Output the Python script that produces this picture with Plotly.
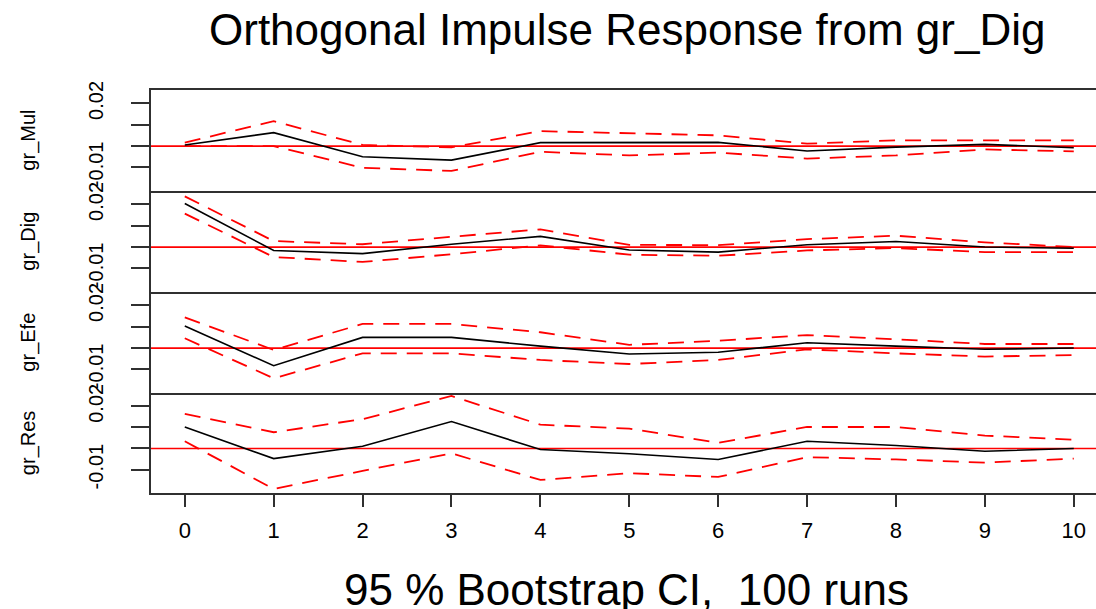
import plotly.graph_objects as go

horizon = [0, 1, 2, 3, 4, 5, 6, 7, 8, 9, 10]
x_tick_labels = ["0", "1", "2", "3", "4", "5", "6", "7", "8", "9", "10"]
panel_names = ["gr_Mul", "gr_Dig", "gr_Efe", "gr_Res"]

mul_irf = [0.0005, 0.0063, -0.0050, -0.0066, 0.0016, 0.0017, 0.0017, -0.0023, -0.0005, 0.0008, -0.0008]
mul_upper = [0.0016, 0.0117, 0.0005, -0.0006, 0.0070, 0.0061, 0.0050, 0.0011, 0.0027, 0.0027, 0.0027]
mul_lower = [0.0000, 0.0000, -0.0102, -0.0117, -0.0027, -0.0044, -0.0031, -0.0059, -0.0044, -0.0016, -0.0025]

dig_irf = [0.0204, -0.0016, -0.0031, 0.0013, 0.0050, -0.0014, -0.0024, 0.0011, 0.0026, 0.0000, -0.0006]
dig_upper = [0.0238, 0.0028, 0.0013, 0.0047, 0.0083, 0.0010, 0.0009, 0.0037, 0.0053, 0.0022, 0.0000]
dig_lower = [0.0157, -0.0047, -0.0070, -0.0034, 0.0008, -0.0036, -0.0041, -0.0016, -0.0005, -0.0024, -0.0024]

efe_irf = [0.0103, -0.0083, 0.0050, 0.0050, 0.0009, -0.0028, -0.0020, 0.0025, 0.0009, -0.0006, 0.0000]
efe_upper = [0.0144, -0.0009, 0.0113, 0.0113, 0.0074, 0.0015, 0.0034, 0.0061, 0.0041, 0.0019, 0.0019]
efe_lower = [0.0046, -0.0142, -0.0025, -0.0025, -0.0056, -0.0075, -0.0056, -0.0006, -0.0025, -0.0040, -0.0033]

res_irf = [0.0102, -0.0048, 0.0011, 0.0128, -0.0005, -0.0025, -0.0052, 0.0034, 0.0014, -0.0013, 0.0000]
res_upper = [0.0164, 0.0077, 0.0139, 0.0249, 0.0113, 0.0094, 0.0027, 0.0102, 0.0102, 0.0061, 0.0042]
res_lower = [0.0034, -0.0192, -0.0106, -0.0023, -0.0149, -0.0117, -0.0135, -0.0041, -0.0052, -0.0067, -0.0048]

y_tick_vals = [-0.01, 0.0, 0.01, 0.02]
y_tick_text = ["-0.01", "", "", "0.02"]

panels = [
    (mul_irf, mul_upper, mul_lower),
    (dig_irf, dig_upper, dig_lower),
    (efe_irf, efe_upper, efe_lower),
    (res_irf, res_upper, res_lower),
]

FONT = "Liberation Sans, Arial, sans-serif"
domains = [[0.7494, 1.0], [0.4988, 0.7494], [0.2481, 0.4988], [0.0, 0.2481]]
y_range = [-0.0211, 0.0263]
x_range = [-0.38, 10.25]
BORDER = "#303030"

fig = go.Figure()
layout = {}
for i, (irf, up, lo) in enumerate(panels):
    n = i + 1
    xa = "x" if n == 1 else f"x{n}"
    ya = "y" if n == 1 else f"y{n}"
    fig.add_trace(go.Scatter(x=[x_range[0], x_range[1]], y=[0, 0], xaxis=xa, yaxis=ya,
                             mode="lines", line=dict(color="#ff0000", width=1.7),
                             showlegend=False, hoverinfo="skip"))
    fig.add_trace(go.Scatter(x=horizon, y=up, xaxis=xa, yaxis=ya, mode="lines",
                             line=dict(color="#ff0000", width=1.8, dash="16px,10px"),
                             showlegend=False))
    fig.add_trace(go.Scatter(x=horizon, y=lo, xaxis=xa, yaxis=ya, mode="lines",
                             line=dict(color="#ff0000", width=1.8, dash="16px,10px"),
                             showlegend=False))
    fig.add_trace(go.Scatter(x=horizon, y=irf, xaxis=xa, yaxis=ya, mode="lines",
                             line=dict(color="#000000", width=1.6),
                             showlegend=False))
    key_x = "xaxis" if n == 1 else f"xaxis{n}"
    key_y = "yaxis" if n == 1 else f"yaxis{n}"
    is_bottom = n == 4
    layout[key_x] = dict(
        domain=[0, 1], anchor=ya, range=x_range, showgrid=False, zeroline=False,
        showline=True, mirror=(n == 1), linecolor=BORDER, linewidth=1.8,
        tickmode="array", tickvals=horizon, ticktext=x_tick_labels,
        ticks="outside" if is_bottom else "", ticklen=12, tickwidth=1.8, tickcolor=BORDER,
        showticklabels=is_bottom, tickfont=dict(family=FONT, size=22, color="#000000"),
        ticklabelstandoff=5, automargin=False,
    )
    if n > 1:
        layout[key_x]["matches"] = "x"
    layout[key_y] = dict(
        domain=domains[i], anchor=xa, range=y_range, showgrid=False, zeroline=False,
        showline=True, mirror=False, linecolor=BORDER, linewidth=1.8,
        tickmode="array", tickvals=y_tick_vals, ticktext=y_tick_text,
        ticks="outside", ticklen=18, tickwidth=1.8, tickcolor=BORDER,
        tickangle=-90, tickfont=dict(family=FONT, size=20, color="#000000"),
        ticklabelstandoff=20, automargin=False,
    )

fig.update_layout(**layout)

annotations = []
for i, name in enumerate(panel_names):
    d = domains[i]
    annotations.append(dict(
        text=name, xref="paper", yref="paper", x=-0.130, y=(d[0] + d[1]) / 2,
        xanchor="center", yanchor="middle", textangle=-90, showarrow=False,
        font=dict(family=FONT, size=20, color="#000000"),
    ))
annotations.append(dict(
    text="95 % Bootstrap CI,  100 runs", xref="paper", yref="paper",
    x=0.5037, y=(493 - 589) / 403, xanchor="center", yanchor="middle", showarrow=False,
    font=dict(family=FONT, size=44, color="#000000"),
))
annotations.append(dict(
    text="Orthogonal Impulse Response from gr_Dig", xref="paper", yref="paper",
    x=0.5037, y=(493 - 30) / 403, xanchor="center", yanchor="middle", showarrow=False,
    font=dict(family=FONT, size=44, color="#000000"),
))

fig.update_layout(
    width=1096, height=609,
    margin=dict(l=151, r=0, t=90, b=116, pad=0, autoexpand=False),
    paper_bgcolor="white", plot_bgcolor="white",
    annotations=annotations, showlegend=False,
)

fig.write_html(
    "out.html",
    config={"displayModeBar": False},
    post_script="document.body.style.margin='0px';document.documentElement.style.overflow='hidden';document.body.style.overflow='hidden';",
)
